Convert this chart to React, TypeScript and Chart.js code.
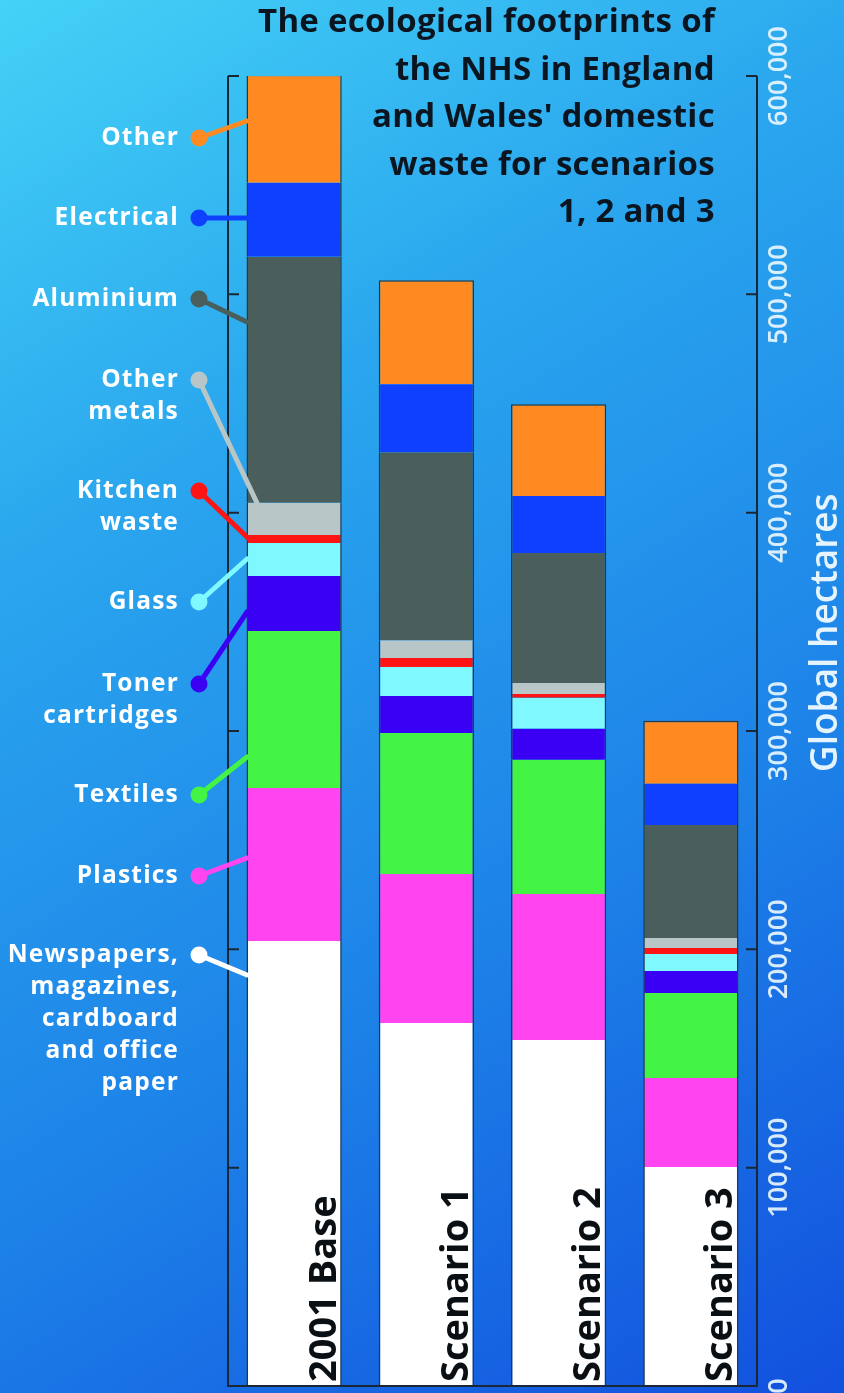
import React, { useEffect, useRef } from "react";
import { Chart, registerables } from "chart.js";

Chart.register(...registerables);

// ---------- data ----------
const categories = ["2001 Base", "Scenario 1", "Scenario 2", "Scenario 3"];
const newspapers = [203800, 166300, 158500, 100300];
const plastics = [70100, 68200, 66900, 40800];
const textiles = [71900, 64600, 61400, 38900];
const toner = [25200, 16900, 14200, 10100];
const glass = [15100, 13300, 14200, 7800];
const kitchen = [3700, 4100, 1800, 2700];
const otherMetals = [14700, 8200, 5000, 4600];
const aluminium = [112700, 86100, 59500, 51800];
const electrical = [33900, 31100, 26100, 18800];
const other = [49500, 47600, 42100, 28900];

const yTicks = [0, 100000, 200000, 300000, 400000, 500000, 600000];
const yTickLabels = ["0", "100,000", "200,000", "300,000", "400,000", "500,000", "600,000"];
const yTitle = "Global hectares";
const titleLines = [
  "The ecological footprints of",
  "the NHS in England",
  "and Wales' domestic",
  "waste for scenarios",
  "1, 2 and 3",
];

const seriesNames = [
  "Newspapers, magazines, cardboard and office paper",
  "Plastics",
  "Textiles",
  "Toner cartridges",
  "Glass",
  "Kitchen waste",
  "Other metals",
  "Aluminium",
  "Electrical",
  "Other",
];
const seriesValues = [newspapers, plastics, textiles, toner, glass, kitchen, otherMetals, aluminium, electrical, other];

// ---------- styles / layout ----------
const seriesColors = [
  "#ffffff",
  "#ff44f0",
  "#44f444",
  "#3a00f4",
  "#80f8ff",
  "#ff1414",
  "#b8c6c8",
  "#4a5e5c",
  "#1040ff",
  "#ff8a22",
];

const legendLines = [
  ["Newspapers,", "magazines,", "cardboard", "and office", "paper"],
  ["Plastics"],
  ["Textiles"],
  ["Toner", "cartridges"],
  ["Glass"],
  ["Kitchen", "waste"],
  ["Other", "metals"],
  ["Aluminium"],
  ["Electrical"],
  ["Other"],
];
const legendDotY = [955, 876, 795, 684, 602, 491, 380, 299, 218, 138];
const legendEnd = [
  [247, 975],
  [247, 858],
  [247, 757],
  [247, 612],
  [247, 559],
  [248, 538],
  [257, 503],
  [247, 322],
  [247, 218],
  [247, 121],
];

const W = 844;
const H = 1393;
const FONT = '"Open Sans", "DejaVu Sans", sans-serif';

const backgroundPlugin = {
  id: "bg",
  beforeDraw(chart: any) {
    const ctx = chart.ctx;
    const g = ctx.createLinearGradient(0, 0, W, H);
    g.addColorStop(0, "#44d2f6");
    g.addColorStop(0.3, "#2aa6ee");
    g.addColorStop(0.65, "#1d82e8");
    g.addColorStop(1, "#1250de");
    ctx.save();
    ctx.fillStyle = g;
    ctx.fillRect(0, 0, chart.width, chart.height);
    ctx.restore();
  },
};

const decorPlugin = {
  id: "decor",
  afterDatasetsDraw(chart: any) {
    const ctx = chart.ctx;
    const area = chart.chartArea;
    const y = chart.scales.y;
    const x = chart.scales.x;
    ctx.save();

    // axes frame
    ctx.strokeStyle = "#1a2836";
    ctx.lineWidth = 2;
    ctx.beginPath();
    ctx.moveTo(area.left, area.top);
    ctx.lineTo(area.left, area.bottom);
    ctx.lineTo(area.right, area.bottom);
    ctx.lineTo(area.right, area.top);
    ctx.stroke();
    // ticks (inward)
    yTicks.forEach((v) => {
      const py = y.getPixelForValue(v);
      ctx.beginPath();
      ctx.moveTo(area.left, py);
      ctx.lineTo(area.left + 11, py);
      ctx.moveTo(area.right, py);
      ctx.lineTo(area.right - 11, py);
      ctx.stroke();
    });

    // tick labels (rotated)
    ctx.fillStyle = "rgba(232,246,255,0.92)";
    ctx.font = `600 27px ${FONT}`;
    ctx.textAlign = "center";
    ctx.textBaseline = "middle";
    yTicks.forEach((v, i) => {
      const py = y.getPixelForValue(v);
      ctx.save();
      ctx.translate(area.right + 22, py);
      ctx.rotate(-Math.PI / 2);
      ctx.fillText(yTickLabels[i], 0, 0);
      ctx.restore();
    });

    // axis title
    ctx.save();
    ctx.fillStyle = "rgba(240,250,255,0.95)";
    ctx.font = `600 37px ${FONT}`;
    ctx.textAlign = "center";
    ctx.textBaseline = "middle";
    ctx.translate(area.right + 69, y.getPixelForValue(345000));
    ctx.rotate(-Math.PI / 2);
    ctx.fillText(yTitle, 0, 0);
    ctx.restore();

    // category labels inside bars
    const meta = chart.getDatasetMeta(0);
    ctx.fillStyle = "#0a0f14";
    ctx.font = `bold 38px ${FONT}`;
    ctx.textAlign = "left";
    ctx.textBaseline = "alphabetic";
    categories.forEach((c, i) => {
      const bar = meta.data[i];
      const bx = x.getPixelForValue(i) + bar.width / 2 - 6;
      ctx.save();
      ctx.translate(bx, area.bottom - 4);
      ctx.rotate(-Math.PI / 2);
      ctx.fillText(c, 0, 0);
      ctx.restore();
    });

    // legend with connectors
    ctx.lineCap = "round";
    seriesNames.forEach((_, i) => {
      const col = seriesColors[i];
      const dy = legendDotY[i];
      const [ex, ey] = legendEnd[i];
      ctx.strokeStyle = col;
      ctx.lineWidth = 5;
      ctx.beginPath();
      ctx.moveTo(199, dy);
      ctx.lineTo(ex, ey);
      ctx.stroke();
      ctx.fillStyle = col;
      ctx.beginPath();
      ctx.arc(199, dy, 8.5, 0, Math.PI * 2);
      ctx.fill();
    });
    ctx.fillStyle = "#ffffff";
    ctx.font = `bold 24.5px ${FONT}`;
    (ctx as any).letterSpacing = "1.2px";
    ctx.textAlign = "right";
    ctx.textBaseline = "middle";
    legendLines.forEach((lines, i) => {
      lines.forEach((ln, j) => {
        ctx.fillText(ln, 179, legendDotY[i] + j * 32);
      });
    });
    (ctx as any).letterSpacing = "0px";

    // title
    ctx.fillStyle = "#0b1520";
    ctx.font = `bold 33px ${FONT}`;
    (ctx as any).letterSpacing = "0.3px";
    ctx.textAlign = "right";
    ctx.textBaseline = "alphabetic";
    titleLines.forEach((t, i) => {
      ctx.fillText(t, 715, 32 + i * 47.5);
    });
    (ctx as any).letterSpacing = "0px";

    ctx.restore();
  },
};

export default function App() {
  const ref = useRef<HTMLCanvasElement | null>(null);
  useEffect(() => {
    if (!ref.current) return;
    const datasets = seriesNames.map((name, i) => ({
      label: name,
      data: seriesValues[i],
      backgroundColor: seriesColors[i],
      borderColor: "#2a373c",
      borderWidth: { left: 1.5, right: 1.5, top: i === seriesNames.length - 1 ? 1.5 : 0, bottom: 0 },
      borderSkipped: false,
      categoryPercentage: 1,
      barPercentage: 0.72,
    }));
    const chart = new Chart(ref.current, {
      type: "bar",
      data: { labels: categories, datasets },
      options: {
        responsive: false,
        animation: false,
        devicePixelRatio: 1,
        layout: { padding: { left: 228, right: 87, top: 76, bottom: 7 } },
        plugins: {
          legend: { display: false },
          tooltip: { enabled: false },
        },
        scales: {
          x: { stacked: true, display: false },
          y: { stacked: true, display: false, min: 0, max: 600000 },
        },
      },
      plugins: [backgroundPlugin, decorPlugin],
    } as any);
    return () => chart.destroy();
  }, []);
  return (
    <div style={{ position: "absolute", left: 0, top: 0, width: W, height: H }}>
      <canvas ref={ref} width={W} height={H} style={{ display: "block", width: W, height: H }} />
    </div>
  );
}
